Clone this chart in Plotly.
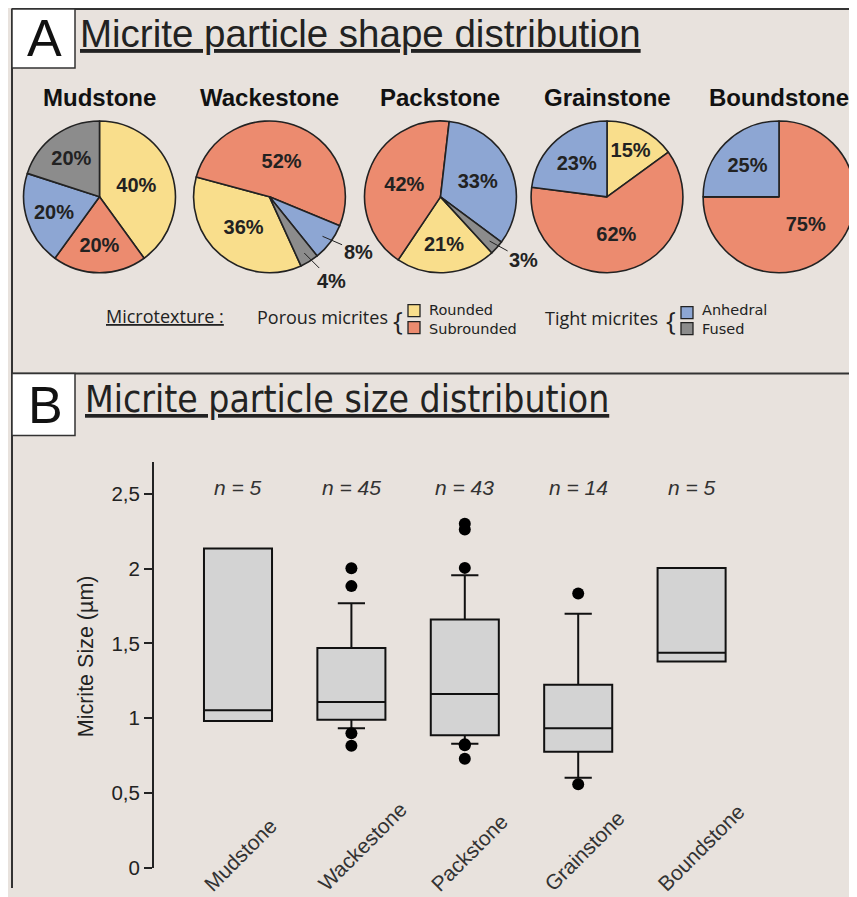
import math
import plotly.graph_objects as go

# the page keeps an 8px body margin and the photo is squeezed a little vertically,
# so reference pixel positions are mapped into figure coordinates here
OX, OY = 8, 8
W, H = 849, 891
SY = 897 / 907

# ---------------- data ----------------
facies = ["Mudstone", "Wackestone", "Packstone", "Grainstone", "Boundstone"]
shape_labels = ["Rounded", "Subrounded", "Anhedral", "Fused"]
shape_colors = ["#F9DE8C", "#EC8B6F", "#8DA6D3", "#8C8C8C"]

rounded_pct = [40, 36, 21, 15, 0]
subrounded_pct = [20, 52, 42, 62, 75]
anhedral_pct = [20, 8, 33, 23, 25]
fused_pct = [20, 4, 3, 0, 0]
pie_rotation = [0, 155.5, 137.5, 0, 0]

sample_n = [5, 45, 43, 14, 5]
q1 = [0.98, 0.99, 0.885, 0.775, 1.378]
median = [1.053, 1.108, 1.162, 0.933, 1.438]
q3 = [2.134, 1.469, 1.660, 1.224, 2.005]
lower_whisker = [0.98, 0.933, 0.828, 0.601, 1.378]
upper_whisker = [2.134, 1.769, 1.956, 1.698, 2.005]
outliers = [
    [],
    [2.003, 1.883, 0.899, 0.815],
    [2.300, 2.262, 2.005, 0.826, 0.818, 0.728],
    [1.834, 0.557],
    [],
]

y_ticks = [0, 0.5, 1, 1.5, 2, 2.5]
y_ticktext = ["0", "0,5", "1", "1,5", "2", "2,5"]

# ---------------- helpers ----------------
def px(x):
    return (x - OX) / W


def py(y):
    return 1 - (y / SY - OY) / H


BG = "#E8E2DD"
INK = "#222222"
SANS = "Liberation Sans, Arial, sans-serif"
NARROW = "Liberation Sans Narrow, Arial Narrow, DejaVu Sans Condensed, sans-serif"
MYRIAD = "Open Sans, Lato, sans-serif"
WIDE = "DejaVu Sans, Liberation Sans, sans-serif"

fig = go.Figure()
annotations = []
shapes = []

# ---------------- pies ----------------
pie_cx = [99.5, 269.5, 440.5, 607, 779]
pie_cy = 197
R = 76
for i, name in enumerate(facies):
    vals_all = [rounded_pct[i], subrounded_pct[i], anhedral_pct[i], fused_pct[i]]
    labs, vals, cols, texts = [], [], [], []
    for lab, v, c in zip(shape_labels, vals_all, shape_colors):
        if v > 0:
            labs.append(lab)
            vals.append(v)
            cols.append(c)
            texts.append(f"{v}%" if v >= 10 else "")
    cx = pie_cx[i]
    fig.add_trace(go.Pie(
        labels=labs, values=vals, sort=False, direction="clockwise",
        rotation=pie_rotation[i],
        marker=dict(colors=cols, line=dict(color=INK, width=1.6)),
        text=texts, textinfo="text", textposition="inside",
        insidetextorientation="horizontal",
        textfont=dict(family=SANS, size=20, color=INK, weight="bold"),
        domain=dict(x=[px(cx - R), px(cx + R)], y=[py(pie_cy + R), py(pie_cy - R)]),
        hoverinfo="label+text", showlegend=False,
    ))
    annotations.append(dict(
        text=f"<b>{name}</b>", x=px(cx), y=py(98), xref="paper", yref="paper",
        showarrow=False, xanchor="center", yanchor="middle",
        font=dict(family=SANS, size=24, color="#111111"),
    ))
    # small slices: outside labels with leader lines
    total = sum(vals)
    ang = pie_rotation[i]
    for v in vals:
        mid = ang + 360 * v / total / 2
        if v < 10:
            a = math.radians(mid)
            tipx = cx + 0.87 * R * math.sin(a)
            tipy = pie_cy - 0.87 * R * math.cos(a)
            a2 = math.radians(mid - 5)
            tx = cx + 1.37 * R * math.sin(a2)
            ty = pie_cy - 1.37 * R * math.cos(a2)
            annotations.append(dict(
                text=f"<b>{v}%</b>", x=px(tipx), y=py(tipy), xref="paper", yref="paper",
                ax=tx - tipx, ay=(ty - tipy) / SY, showarrow=True, arrowhead=0,
                arrowwidth=1, arrowcolor=INK,
                font=dict(family=SANS, size=20, color=INK),
            ))
        ang += 360 * v / total

# ---------------- legend ----------------
annotations.append(dict(
    text="<u>Microtexture :</u>", x=px(104), y=py(316), xref="paper", yref="paper",
    showarrow=False, xanchor="left", yanchor="middle",
    font=dict(family=MYRIAD, size=18, color=INK)))
annotations.append(dict(
    text="Porous micrites", x=px(255), y=py(317), xref="paper", yref="paper",
    showarrow=False, xanchor="left", yanchor="middle",
    font=dict(family=MYRIAD, size=18, color=INK)))
annotations.append(dict(
    text="Tight micrites", x=px(543), y=py(318), xref="paper", yref="paper",
    showarrow=False, xanchor="left", yanchor="middle",
    font=dict(family=MYRIAD, size=18, color=INK)))
for bx in [398, 671]:
    annotations.append(dict(
        text="{", x=px(bx), y=py(320), xref="paper", yref="paper",
        showarrow=False, xanchor="center", yanchor="middle",
        font=dict(family=MYRIAD, size=26, color=INK)))
legend_squares = [(408, 305, 0), (408, 322, 1), (681, 307, 2), (681, 323, 3)]
for sx, sy, k in legend_squares:
    shapes.append(dict(type="rect", xref="paper", yref="paper",
                       x0=px(sx), x1=px(sx + 12), y0=py(sy + 12), y1=py(sy),
                       fillcolor=shape_colors[k], line=dict(color=INK, width=1.3)))
for tx, ty, pair in [(427, 320, (0, 1)), (700, 320, (2, 3))]:
    annotations.append(dict(
        text="<br>".join(shape_labels[k] for k in pair), x=px(tx), y=py(ty),
        xref="paper", yref="paper", align="left",
        showarrow=False, xanchor="left", yanchor="middle",
        font=dict(family=WIDE, size=14.5, color=INK)))

# ---------------- box plot ----------------
for i, name in enumerate(facies):
    has_whisk = upper_whisker[i] > q3[i] or lower_whisker[i] < q1[i]
    fig.add_trace(go.Box(
        x=[name], q1=[q1[i]], median=[median[i]], q3=[q3[i]],
        lowerfence=[lower_whisker[i]], upperfence=[upper_whisker[i]],
        fillcolor="#D3D3D3", line=dict(color="#111111", width=2),
        whiskerwidth=0.4 if has_whisk else 0, width=0.6,
        boxpoints=False, showlegend=False, xaxis="x", yaxis="y",
    ))
    if outliers[i]:
        fig.add_trace(go.Scatter(
            x=[name] * len(outliers[i]), y=outliers[i], mode="markers",
            marker=dict(color="#000000", size=12), showlegend=False,
        ))
    annotations.append(dict(
        text=f"<i>n = {sample_n[i]}</i>", x=name, y=2.545, xref="x", yref="y",
        showarrow=False, xanchor="center", yanchor="middle",
        font=dict(family=SANS, size=21, color="#333333")))
    annotations.append(dict(
        text=name, x=name, y=py(899), xref="x", yref="paper", xshift=-41,
        showarrow=False, xanchor="left", yanchor="bottom", textangle=-45,
        font=dict(family=SANS, size=21, color="#333333")))

annotations.append(dict(
    text="Micrite Size (µm)", x=px(86), y=py(657), xref="paper", yref="paper",
    showarrow=False, textangle=-90, xanchor="center", yanchor="middle",
    font=dict(family=SANS, size=21.5, color=INK)))

# ---------------- frame & panel headers ----------------
FR = "#333333"
shapes += [
    dict(type="line", xref="paper", yref="paper", x0=px(12), x1=1, y0=py(9), y1=py(9),
         line=dict(color=FR, width=2)),
    dict(type="line", xref="paper", yref="paper", x0=px(12), x1=px(12), y0=py(9), y1=0,
         line=dict(color=FR, width=2)),
    dict(type="line", xref="paper", yref="paper", x0=px(12), x1=1, y0=py(374), y1=py(374),
         line=dict(color=FR, width=2)),
    dict(type="rect", xref="paper", yref="paper", x0=px(12), x1=px(75), y0=py(68), y1=py(9),
         fillcolor="white", line=dict(color=FR, width=1.5)),
    dict(type="rect", xref="paper", yref="paper", x0=px(12), x1=px(75), y0=py(436), y1=py(374),
         fillcolor="white", line=dict(color=FR, width=1.5)),
]
annotations += [
    dict(text="A", x=px(44), y=py(38), xref="paper", yref="paper", showarrow=False,
         xanchor="center", yanchor="middle", font=dict(family=SANS, size=52, color="#111111")),
    dict(text="B", x=px(45), y=py(405), xref="paper", yref="paper", showarrow=False,
         xanchor="center", yanchor="middle", font=dict(family=SANS, size=52, color="#111111")),
    dict(text="<u>Micrite particle shape distribution</u>", x=px(78), y=py(33),
         xref="paper", yref="paper", showarrow=False, xanchor="left", yanchor="middle",
         font=dict(family=SANS, size=38.5, color="#222222")),
    dict(text="<u>Micrite particle size distribution</u>", x=px(83), y=py(400),
         xref="paper", yref="paper", showarrow=False, xanchor="left", yanchor="middle",
         font=dict(family=NARROW, size=37, color="#222222")),
]

# ---------------- layout ----------------
x_lo = -84 / 113.4
x_hi = x_lo + (857 - 154) / 113.4
fig.update_layout(
    width=W, height=H, margin=dict(l=0, r=0, t=0, b=0),
    paper_bgcolor=BG, plot_bgcolor=BG, showlegend=False,
    xaxis=dict(domain=[px(154), 1], range=[x_lo, x_hi], type="category",
               categoryorder="array", categoryarray=facies,
               showline=False, showgrid=False, zeroline=False,
               showticklabels=False, ticks=""),
    yaxis=dict(domain=[py(868.7), py(463)], range=[0, 2.71],
               tickvals=y_ticks, ticktext=y_ticktext,
               showline=True, linecolor=INK, linewidth=2,
               ticks="outside", ticklen=8, tickwidth=1.5, tickcolor=INK,
               showgrid=False, zeroline=False,
               tickfont=dict(family=SANS, size=20.5, color=INK)),
    annotations=annotations, shapes=shapes,
)

fig.write_html("out.html")
